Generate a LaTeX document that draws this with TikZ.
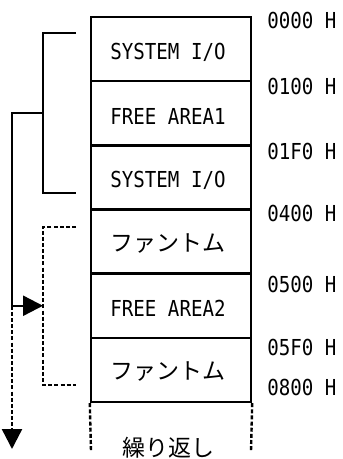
\documentclass[tikz,border=0pt]{standalone}
\usepackage{fontspec}
\usetikzlibrary{arrows.meta}
\newfontfamily\latf[FakeStretch=0.87]{DejaVu Sans Mono}
\newfontfamily\jpf{Noto Sans CJK JP}
\tikzset{
  rowbox/.style={draw, line width=1.8pt, minimum width=120pt, minimum height=48.125pt, inner sep=0pt},
  lat/.style={font=\latf\fontsize{16.5pt}{19pt}\selectfont, inner sep=0pt},
  jp/.style={font=\jpf\fontsize{17.25pt}{20pt}\selectfont, inner sep=0pt},
  addr/.style={lat, anchor=west},
  conn/.style={line width=1.8pt},
  dsh/.style={dash pattern=on 3pt off 1.6pt},
  tip/.style={-{Triangle[length=15pt,width=15pt]}}
}
\begin{document}
\begin{tikzpicture}[x=0.75pt,y=-0.75pt]
\useasboundingbox (0,0) rectangle (342,459);
% memory rows
\node[rowbox] (r1) at (171,49.08) {};
\node[rowbox] (r2) at (171,113.25) {};
\node[rowbox] (r3) at (171,177.42) {};
\node[rowbox] (r4) at (171,241.58) {};
\node[rowbox] (r5) at (171,305.75) {};
\node[rowbox] (r6) at (171,369.92) {};
% row texts
\node[lat] (t1) at (168,52) {SYSTEM I/O};
\node[lat] (t2) at (168,116) {FREE AREA1};
\node[lat] (t3) at (168,180) {SYSTEM I/O};
\node[jp] (t4) at (168,243.5) {ファントム};
\node[lat] (t5) at (168,308.5) {FREE AREA2};
\node[jp] (t6) at (168,372) {ファントム};
\node[jp] (t7) at (168,448) {繰り返し};
% addresses
\node[addr] (a1) at (267,20) {0000 H};
\node[addr] (a2) at (267,86) {0100 H};
\node[addr] (a3) at (267,151) {01F0 H};
\node[addr] (a4) at (267,213) {0400 H};
\node[addr] (a5) at (267,284) {0500 H};
\node[addr] (a6) at (267,347) {05F0 H};
\node[addr] (a7) at (267,387) {0800 H};
% continuation lines
\coordinate (e1) at (91,451);
\coordinate (e2) at (251,451);
\draw[conn,dsh] (r6.south west) -- (e1);
\draw[conn,dsh] (r6.south east) -- (e2);
% solid bracket
\coordinate (sA) at (76,33);
\coordinate (sB) at (43,33);
\coordinate (sC) at (43,193);
\coordinate (sD) at (76,193);
\coordinate (sM) at (43,113.25);
\draw[conn] (sA) -- (sB) -- (sC) -- (sD);
% dashed bracket
\coordinate (dA) at (76,227);
\coordinate (dB) at (43,227);
\coordinate (dC) at (43,385);
\coordinate (dD) at (76,385);
\coordinate (dM) at (43,305.75);
\draw[conn,dsh] (dA) -- (dB) -- (dC) -- (dD);
% loop arrows
\coordinate (L1) at (12,113.25);
\coordinate (L2) at (12,305.75);
\coordinate (L3) at (12,449);
\draw[conn] (sM) -- (L1) -- (L2);
\draw[conn,tip] (L2) -- (dM);
\draw[conn,dsh,tip] (L2) -- (L3);
\end{tikzpicture}
\end{document}
